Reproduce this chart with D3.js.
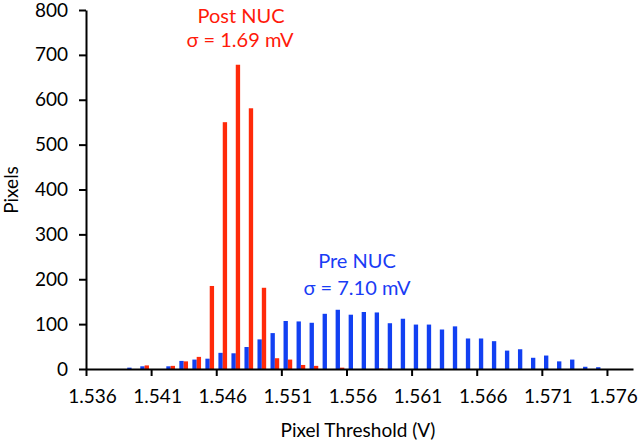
<!DOCTYPE html>
<html>
<head>
<meta charset="utf-8">
<script src="https://cdn.jsdelivr.net/npm/d3@7"></script>
<style>
  html, body { margin: 0; padding: 0; background: #fff; }
  svg { display: block; }
  text { font-family: Lato, "Open Sans", sans-serif; }
</style>
</head>
<body>
<svg id="chart" width="640" height="446"></svg>
<script>
// ---- data ----
const categories = ["1.536","1.537","1.538","1.539","1.540","1.541","1.542","1.543","1.544","1.545",
  "1.546","1.547","1.548","1.549","1.550","1.551","1.552","1.553","1.554","1.555",
  "1.556","1.557","1.558","1.559","1.560","1.561","1.562","1.563","1.564","1.565",
  "1.566","1.567","1.568","1.569","1.570","1.571","1.572","1.573","1.574","1.575",
  "1.576","1.577"];
const preNUC = [0,0,0,3,6,0,6,18,21,23,
  36,35,49,66,80,107,106,103,123,132,
  121,127,126,102,112,99,99,88,95,68,
  68,62,41,44,25,30,17,21,5,4,
  0,0];
const postNUC = [0,0,0,0,8,0,7,17,27,185,
  550,678,581,181,24,21,9,7,0,3,
  0,0,1,0,0,0,0,0,0,0,
  0,0,0,0,0,0,0,0,0,0,
  0,0];
const xTickLabels = ["1.536","1.541","1.546","1.551","1.556","1.561","1.566","1.571","1.576"];
const yTicks = [0,100,200,300,400,500,600,700,800];
const seriesNames = ["Pre NUC","Post NUC"];

// ---- layout ----
const svg = d3.select("#chart");
const L = 86, R = 633, T = 10, B = 369;
const blue = "#1240f2", red = "#ff2a0a";

const x = d3.scaleBand().domain(categories).range([L, R]).paddingInner(1/3).paddingOuter(1/6);
const xSub = d3.scaleBand().domain(seriesNames).range([0, x.bandwidth()]);
const xb = d3.scaleLinear().domain([0, categories.length]).range([L, R]);
const y = d3.scaleLinear().domain([0, 800]).range([B, T]);

const rows = categories.map((c, i) => ({c, pre: preNUC[i], post: postNUC[i]}));

// bars
const g = svg.append("g");
g.selectAll("rect.pre").data(rows).join("rect")
  .attr("class", "pre")
  .attr("x", d => x(d.c) + xSub("Pre NUC"))
  .attr("width", xSub.bandwidth())
  .attr("y", d => y(d.pre))
  .attr("height", d => y(0) - y(d.pre))
  .attr("fill", blue);
g.selectAll("rect.post").data(rows).join("rect")
  .attr("class", "post")
  .attr("x", d => x(d.c) + xSub("Post NUC"))
  .attr("width", xSub.bandwidth())
  .attr("y", d => y(d.post))
  .attr("height", d => y(0) - y(d.post))
  .attr("fill", red);

// y axis
const yAxis = svg.append("g").attr("transform", `translate(${L},0)`)
  .call(d3.axisLeft(y).tickValues(yTicks).tickSize(7).tickSizeOuter(0).tickPadding(11));
yAxis.selectAll("path, line").attr("stroke", "#000").attr("stroke-width", 2);
yAxis.selectAll("text").attr("font-size", 19).attr("fill", "#000")
  .attr("font-family", "Lato, sans-serif");

// x axis: tick marks at category boundaries
const xTickAxis = svg.append("g").attr("transform", `translate(0,${B})`)
  .call(d3.axisBottom(xb).tickValues(d3.range(0, categories.length, 5)).tickFormat("").tickSize(7).tickSizeOuter(0));
xTickAxis.selectAll("path, line").attr("stroke", "#000").attr("stroke-width", 2);

// x labels at labelled categories
const xLabAxis = svg.append("g").attr("transform", `translate(0,${B})`)
  .call(d3.axisBottom(x).tickValues(xTickLabels).tickSize(0).tickPadding(21));
xLabAxis.select("path").remove();
xLabAxis.selectAll("text").attr("font-size", 19).attr("fill", "#000")
  .attr("font-family", "Lato, sans-serif");

// axis titles
svg.append("text").attr("x", 358).attr("y", 437).attr("text-anchor", "middle")
  .attr("font-size", 19).attr("fill", "#000").text("Pixel Threshold (V)");
svg.append("text").attr("transform", "translate(18,190) rotate(-90)").attr("text-anchor", "middle")
  .attr("font-size", 19).attr("fill", "#000").text("Pixels");

// annotations
svg.append("text").attr("x", 241).attr("y", 23).attr("text-anchor", "middle")
  .attr("font-size", 20).attr("fill", "#ff1a0a").text("Post NUC");
svg.append("text").attr("x", 240).attr("y", 47).attr("text-anchor", "middle")
  .attr("font-size", 20).attr("fill", "#ff1a0a").text("σ = 1.69 mV");
svg.append("text").attr("x", 357).attr("y", 268).attr("text-anchor", "middle")
  .attr("font-size", 20).attr("fill", "#1a3cf5").text("Pre NUC");
svg.append("text").attr("x", 357).attr("y", 295).attr("text-anchor", "middle")
  .attr("font-size", 20).attr("fill", "#1a3cf5").text("σ = 7.10 mV");
</script>
</body>
</html>
